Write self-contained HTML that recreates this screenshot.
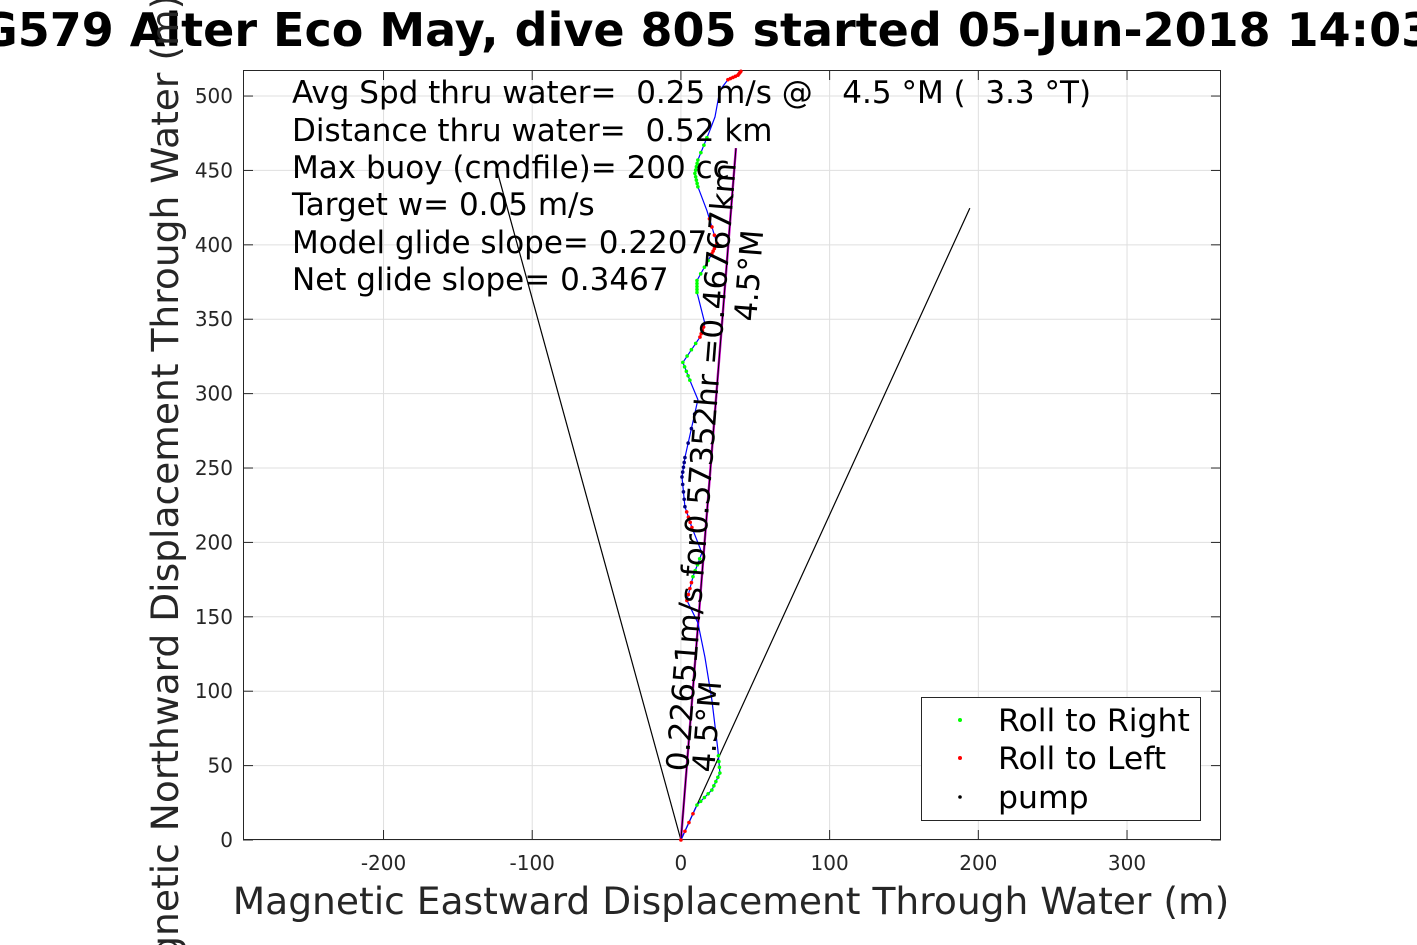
<!DOCTYPE html>
<html><head><meta charset="utf-8"><style>
html,body{margin:0;padding:0;background:#fff;overflow:hidden;}
svg{display:block;font-family:"DejaVu Sans","Liberation Sans",sans-serif;}
text{white-space:pre;}
</style></head><body>
<svg id="chart" width="1417" height="945" viewBox="0 0 1417 945" xmlns="http://www.w3.org/2000/svg">
<rect width="1417" height="945" fill="#fff"/>
<g id="grid"></g>
<g id="axes"></g>
<g id="marks"></g>
<text x="-20" y="46" font-size="46" font-weight="bold" fill="#000">G579 Alter Eco May, dive 805 started 05-Jun-2018 14:03</text>
<g font-size="31" fill="#000" xml:space="preserve">
<text x="292" y="103">Avg Spd thru water=  0.25 m/s @   4.5 °M (  3.3 °T)</text>
<text x="292" y="141">Distance thru water=  0.52 km</text>
<text x="292" y="178">Max buoy (cmdfile)= 200 cc</text>
<text x="292" y="215">Target w= 0.05 m/s</text>
<text x="292" y="253">Model glide slope= 0.2207</text>
<text x="292" y="290">Net glide slope= 0.3467</text>
</g>
<text font-size="31" fill="#000" transform="translate(688,772) rotate(-85.5)">0.22651m/s for0.57352hr =0.46767km</text>
<text font-size="31" fill="#000" transform="translate(714,773) rotate(-85.5)">4.5°M</text>
<text font-size="31" fill="#000" transform="translate(756,322) rotate(-85.5)">4.5°M</text>
<text x="731" y="914" font-size="37.6" fill="#262626" text-anchor="middle">Magnetic Eastward Displacement Through Water (m)</text>
<text font-size="37.6" fill="#262626" text-anchor="middle" transform="translate(178,505) rotate(-90)">Magnetic Northward Displacement Through Water (m)</text>
<g>
<rect x="921.5" y="697.5" width="279" height="123" fill="#fff" stroke="#262626" stroke-width="1"/>
<circle cx="960" cy="720" r="2" fill="#00ff00"/>
<text x="998" y="731" font-size="31.5" fill="#000">Roll to Right</text>
<circle cx="960" cy="758" r="2" fill="#ff0000"/>
<text x="998" y="769" font-size="31.5" fill="#000">Roll to Left</text>
<circle cx="960" cy="797" r="1.8" fill="#000"/>
<text x="998" y="808" font-size="31.5" fill="#000">pump</text>
</g>
</svg>
<script>
const trackX=[0,10.8,20.8,26.2,24.9,20.8,16.1,11.4,4,8.1,14.1,7.4,2.7,0.7,2.7,11.4,6,1.3,12.8,16.1,10.8,10.8,20.8,24.2,17.5,11.4,9.4,11.4,19.5,22.9,26.2,31.6,38.3,41];
const trackY=[0,23.5,33.6,45,60.5,94,123,146,161,177,193,210,224,244,257,296,309,321,338,347,368,376,394,401,423,439,448,457,477,486,504,511,514,517.5];
const markerType=['L','R','R','R','N','N','N','N','L','R','N','L','P','P','P','N','R','R','L','N','R','R','L','L','N','R','R','R','N','N','N','L','L','L'];
const fanLeft=[-123.7,450];
const fanRight=[194.3,424.7];
const headingLine=[37,465];
const xTicks=[-200,-100,0,100,200,300];
const yTicks=[0,50,100,150,200,250,300,350,400,450,500];
const X0=243,X1=1221,Y0=70,Y1=840,xmin=-294.5,xmax=363.2,ymin=0,ymax=517.5;
function sx(v){return X0+(v-xmin)/(xmax-xmin)*(X1-X0);}
function sy(v){return Y1-(v-ymin)/(ymax-ymin)*(Y1-Y0);}
const NS='http://www.w3.org/2000/svg';
function mk(tag,parent,attrs){const e=document.createElementNS(NS,tag);for(const k in attrs)e.setAttribute(k,attrs[k]);parent.appendChild(e);return e;}
const grid=document.getElementById('grid'),axes=document.getElementById('axes'),marks=document.getElementById('marks');
xTicks.forEach(t=>{const x=sx(t);
 const g=mk('line',grid,{x1:x,x2:x,y1:Y0,y2:Y1,stroke:'#dfdfdf','stroke-width':1});
 
 
 mk('line',axes,{x1:x,x2:x,y1:Y1,y2:Y1-10,stroke:'#262626'});
 mk('line',axes,{x1:x,x2:x,y1:Y0,y2:Y0+10,stroke:'#262626'});
 const tl=mk('text',axes,{x:x,y:Y1+30,'font-size':20,'text-anchor':'middle',fill:'#262626'});
 tl.textContent=t<0?'-'+Math.abs(t):String(t);
 
 
});
yTicks.forEach(t=>{const y=sy(t);
 const g=mk('line',grid,{x1:X0,x2:X1,y1:y,y2:y,stroke:'#dfdfdf','stroke-width':1});
 
 
 mk('line',axes,{x1:X0,x2:X0+10,y1:y,y2:y,stroke:'#262626'});
 mk('line',axes,{x1:X1,x2:X1-10,y1:y,y2:y,stroke:'#262626'});
 const tl=mk('text',axes,{x:X0-10,y:y+7,'font-size':20,'text-anchor':'end',fill:'#262626'});
 tl.textContent=String(t);
 
 
});
const box=mk('rect',axes,{x:X0+0.5,y:Y0+0.5,width:X1-X0-1,height:Y1-Y0-1,fill:'none',stroke:'#262626','stroke-width':1});


[[fanLeft,'fan-line-left'],[fanRight,'fan-line-right']].forEach(([p,n])=>{
 const l=mk('line',marks,{x1:sx(0),y1:sy(0),x2:sx(p[0]),y2:sy(p[1]),stroke:'#000','stroke-width':1.2});
 
 
});
const hm=mk('line',marks,{x1:sx(0),y1:sy(0),x2:sx(headingLine[0]),y2:sy(headingLine[1]),stroke:'#cc00cc','stroke-width':2.4});


const hb=mk('line',marks,{x1:sx(0),y1:sy(0),x2:sx(headingLine[0]),y2:sy(headingLine[1]),stroke:'#000','stroke-width':1});


let d='';
for(let i=0;i<trackX.length;i++){d+=(i?' L':'M')+sx(trackX[i]).toFixed(1)+' '+sy(trackY[i]).toFixed(1);}
const tr=mk('path',marks,{d:d,fill:'none',stroke:'#0000ff','stroke-width':1.2,'stroke-linejoin':'round'});


const col={R:'#00ff00',L:'#ff0000',P:'#000080'};
for(let i=0;i<trackX.length-1;i++){
 const t=markerType[i]; if(t==='N')continue;
 for(let k=0;k<4;k++){const f=k/4;
  const x=trackX[i]+(trackX[i+1]-trackX[i])*f,y=trackY[i]+(trackY[i+1]-trackY[i])*f;
  const c=mk('circle',marks,{cx:sx(x),cy:sy(y),r:1.8,fill:col[t]});
  
  
 }
}
</script>
</body></html>
